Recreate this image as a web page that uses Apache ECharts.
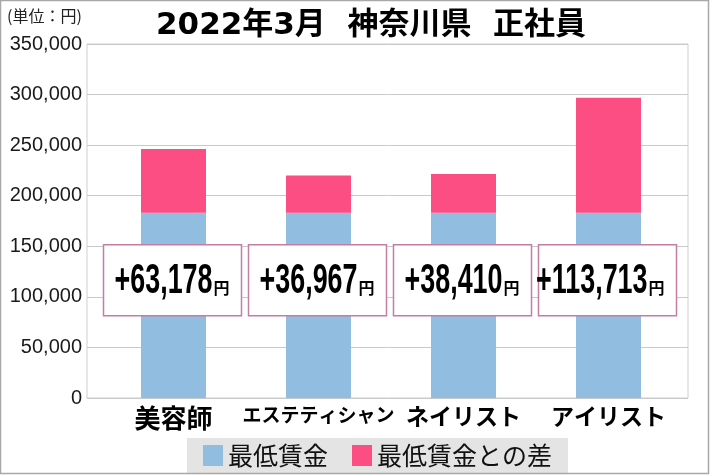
<!DOCTYPE html>
<html><head><meta charset="utf-8">
<script src="https://cdn.jsdelivr.net/npm/echarts@6/dist/echarts.min.js"></script>
<style>html,body{margin:0;padding:0;background:#fff}#c{width:712px;height:476px}</style>
</head><body><div id="c"></div>
<script>
const categories = ['美容師', 'エステティシャン', 'ネイリスト', 'アイリスト'];
const minWage = [183040, 183040, 183040, 183040];
const diffWage = [63178, 36967, 38410, 113713];
const seriesNames = ['最低賃金', '最低賃金との差'];
const yTicks = [0, 50000, 100000, 150000, 200000, 250000, 300000, 350000];

const CJK = '"Noto Sans CJK JP", sans-serif';
const NUM = '"Liberation Sans", Arial, sans-serif';
const catSize = ['a', 'b', 'c', 'c'];

const chart = echarts.init(document.getElementById('c'), null, {renderer: 'canvas'});
const yMin = yTicks[0], yMax = yTicks[yTicks.length - 1], yStep = yTicks[1] - yTicks[0];

function renderBox(params, api) {
  const i = api.value(0);
  const p = api.coord([i, api.value(1)]);
  const cx = p[0] - 1, cy = p[1] + 67.5;
  const diff = diffWage[params.dataIndex];
  return {
    type: 'group',
    children: [
      {type: 'rect', shape: {x: cx - 69, y: cy - 35.5, width: 138, height: 71},
        style: {fill: '#fff', stroke: '#c47da3', lineWidth: 1.5}},
      {type: 'text', x: cx + 40, y: cy + 1, scaleX: 0.64,
        style: {text: '+' + diff.toLocaleString('en-US'), font: 'bold 42px "Liberation Sans", Arial, sans-serif',
          fill: '#000', align: 'right', verticalAlign: 'middle', textAlign: 'right', textVerticalAlign: 'middle'}},
      {type: 'text', x: cx + 41, y: cy + 8,
        style: {text: '円', font: 'bold 16px "Noto Sans CJK JP"', fill: '#000',
          align: 'left', verticalAlign: 'middle', textAlign: 'left', textVerticalAlign: 'middle'}}
    ]
  };
}

chart.setOption({
  animation: false,
  backgroundColor: '#fff',
  title: {
    text: '2022年3月  神奈川県  正社員',
    left: 366, top: 5, textAlign: 'center',
    textStyle: {fontFamily: '"DejaVu Sans", "Noto Sans CJK JP", sans-serif', fontSize: 31, fontWeight: 'bold', color: '#000'}
  },
  graphic: [
    {type: 'rect', shape: {x: 0.5, y: 0.5, width: 708, height: 473}, style: {fill: 'none', stroke: '#a8a8a8', lineWidth: 1.5}, silent: true, z: 100},
    {type: 'text', left: 7, top: 8, style: {text: '(単位：円)', font: '16px "Noto Sans CJK JP"', fill: '#222'}}
  ],
  legend: {
    data: seriesNames,
    left: 187, top: 438,
    backgroundColor: '#e4e4e4',
    padding: [5, 16, 5, 16],
    itemWidth: 20, itemHeight: 21, itemGap: 24,
    icon: 'rect',
    textStyle: {fontFamily: CJK, fontSize: 25, color: '#111'}
  },
  grid: [
    {left: 87, right: 24, top: 44, bottom: 78, show: true, borderColor: '#cfcfcf', borderWidth: 1},
    {left: 101, right: 31, top: 44, bottom: 78}
  ],
  xAxis: [
    {type: 'category', gridIndex: 0, data: categories, show: false},
    {
      type: 'category', gridIndex: 1, data: categories,
      axisLine: {show: false}, axisTick: {show: false},
      axisLabel: {
        margin: 7, interval: 0,
        formatter: (v, i) => '{' + catSize[i] + '|' + v + '}',
        rich: {
          a: {fontFamily: CJK, fontSize: 26, fontWeight: 'bold', color: '#000'},
          b: {fontFamily: CJK, fontSize: 19, fontWeight: 'bold', color: '#000'},
          c: {fontFamily: CJK, fontSize: 23, fontWeight: 'bold', color: '#000'}
        }
      }
    }
  ],
  yAxis: [
    {
      type: 'value', gridIndex: 0, min: yMin, max: yMax, interval: yStep,
      axisLine: {show: false}, axisTick: {show: false},
      splitLine: {lineStyle: {color: '#c9c9c9', width: 1}},
      axisLabel: {margin: 5, fontFamily: NUM, fontSize: 20, color: '#1a1a1a',
        formatter: v => v.toLocaleString('en-US')}
    },
    {type: 'value', gridIndex: 1, min: yMin, max: yMax, interval: yStep, show: false, splitLine: {show: false}}
  ],
  series: [
    {
      name: seriesNames[0], type: 'bar', stack: 's', xAxisIndex: 1, yAxisIndex: 1,
      data: minWage, barWidth: 65,
      itemStyle: {color: '#91bde0'}
    },
    {
      name: seriesNames[1], type: 'bar', stack: 's', xAxisIndex: 1, yAxisIndex: 1,
      data: diffWage, barWidth: 65,
      itemStyle: {color: '#fd4e83'}
    },
    {
      name: 'diffLabel', type: 'custom', xAxisIndex: 1, yAxisIndex: 1, z: 10,
      data: categories.map((c, i) => [i, minWage[i], diffWage[i]]),
      renderItem: renderBox
    }
  ]
});
</script>
</body></html>
